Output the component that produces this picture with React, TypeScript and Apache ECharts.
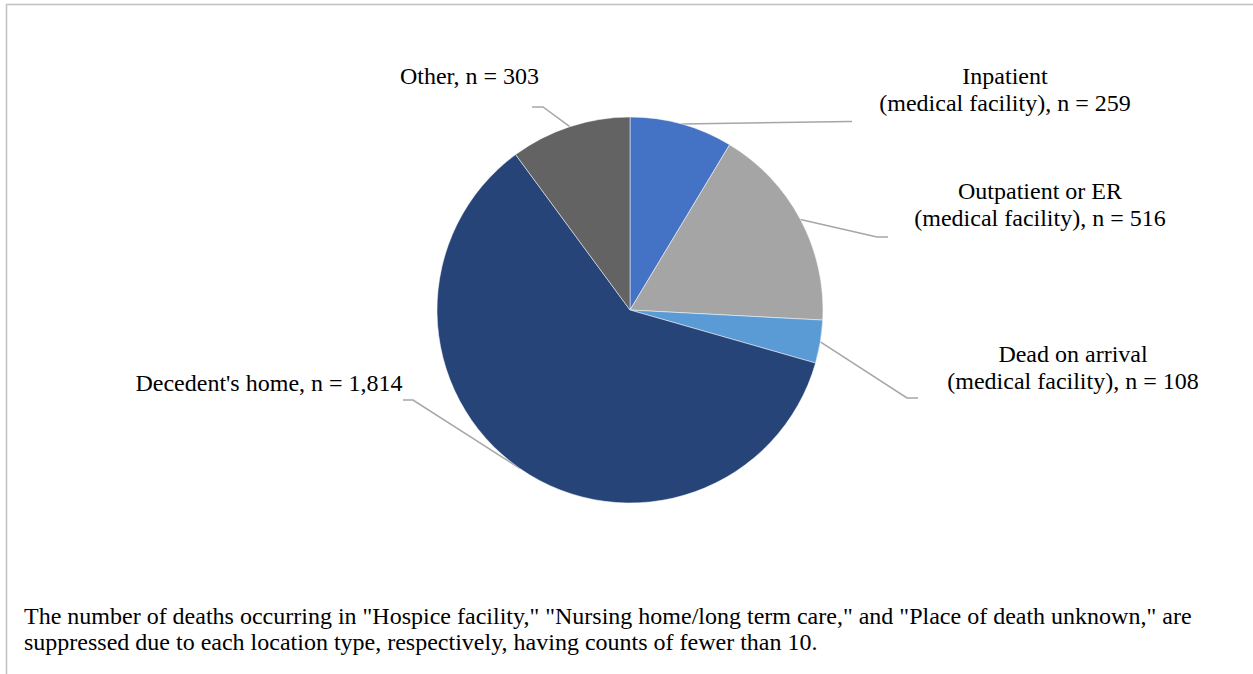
import React, { useEffect, useRef } from "react";
import * as echarts from "echarts";

const categories = [
  "Inpatient\n(medical facility)",
  "Outpatient or ER\n(medical facility)",
  "Dead on arrival\n(medical facility)",
  "Decedent's home",
  "Other",
];
const counts = [259, 516, 108, 1814, 303];
const colors = ["#4472C4", "#A5A5A5", "#5B9BD5", "#264478", "#636363"];
const footnote =
  'The number of deaths occurring in "Hospice facility," "Nursing home/long term care," and "Place of death unknown," are\nsuppressed due to each location type, respectively, having counts of fewer than 10.';

// label placement (style/layout only)
const CX = 630;
const CY = 310;
const R = 193;
const labelPos = [
  { x: 1005, y: 89.5, p1: [850, 121.5], p2: [852, 121.5] },
  { x: 1040, y: 204.5, p1: [877, 237], p2: [888, 237] },
  { x: 1073, y: 367, p1: [907, 398], p2: [918, 398] },
  { x: 269, y: 383, p1: [413, 400], p2: [403, 400] },
  { x: 469.5, y: 76, p1: [543, 107], p2: [532, 107] },
];

const fmt = (n: number) => n.toLocaleString("en-US");

export default function App() {
  const ref = useRef<HTMLDivElement>(null);
  useEffect(() => {
    if (!ref.current) return;
    const chart = echarts.init(ref.current, undefined, { renderer: "svg" });
    const total = counts.reduce((a, b) => a + b, 0);
    const midAngles: number[] = [];
    let acc = 0;
    counts.forEach((v) => {
      midAngles.push(((acc + v / 2) / total) * Math.PI * 2);
      acc += v;
    });
    chart.setOption({
      animation: false,
      backgroundColor: "#ffffff",
      graphic: [
        {
          type: "rect",
          shape: { x: 6.5, y: 4.5, width: 1400, height: 800 },
          style: { fill: "none", stroke: "#C0C0C0", lineWidth: 1.5 },
          silent: true,
        },
        {
          type: "text",
          left: 24,
          top: 603,
          style: {
            text: footnote,
            font: "24px 'Liberation Serif'",
            fill: "#000000",
            lineHeight: 26,
          },
        },
      ],
      series: [
        {
          type: "pie",
          center: [CX, CY],
          radius: R,
          startAngle: 90,
          clockwise: true,
          avoidLabelOverlap: false,
          data: categories.map((c, i) => ({
            name: c,
            value: counts[i],
            itemStyle: { color: colors[i] },
          })),
          itemStyle: { borderColor: "#ffffff", borderWidth: 0.5 },
          label: {
            show: true,
            position: "outside",
            formatter: (p: any) => `${p.name}, n = ${fmt(p.value)}`,
            fontFamily: "'Liberation Serif'",
            fontSize: 24,
            lineHeight: 27,
            color: "#000000",
            align: "center",
          },
          labelLine: {
            show: true,
            length: 10,
            length2: 10,
            lineStyle: { color: "#A6A6A6", width: 1.5 },
          },
          labelLayout: (params: any) => {
            const i = params.dataIndex;
            const lp = labelPos[i];
            const a = midAngles[i];
            const anchor = [CX + R * Math.sin(a), CY - R * Math.cos(a)];
            return {
              x: lp.x,
              y: lp.y,
              align: "center",
              verticalAlign: "middle",
              labelLinePoints: [anchor, lp.p1, lp.p2],
            };
          },
          emphasis: { disabled: true },
        },
      ],
    });
    return () => chart.dispose();
  }, []);
  return (
    <div
      ref={ref}
      style={{ position: "absolute", left: 0, top: 0, width: 1253, height: 674 }}
    />
  );
}
